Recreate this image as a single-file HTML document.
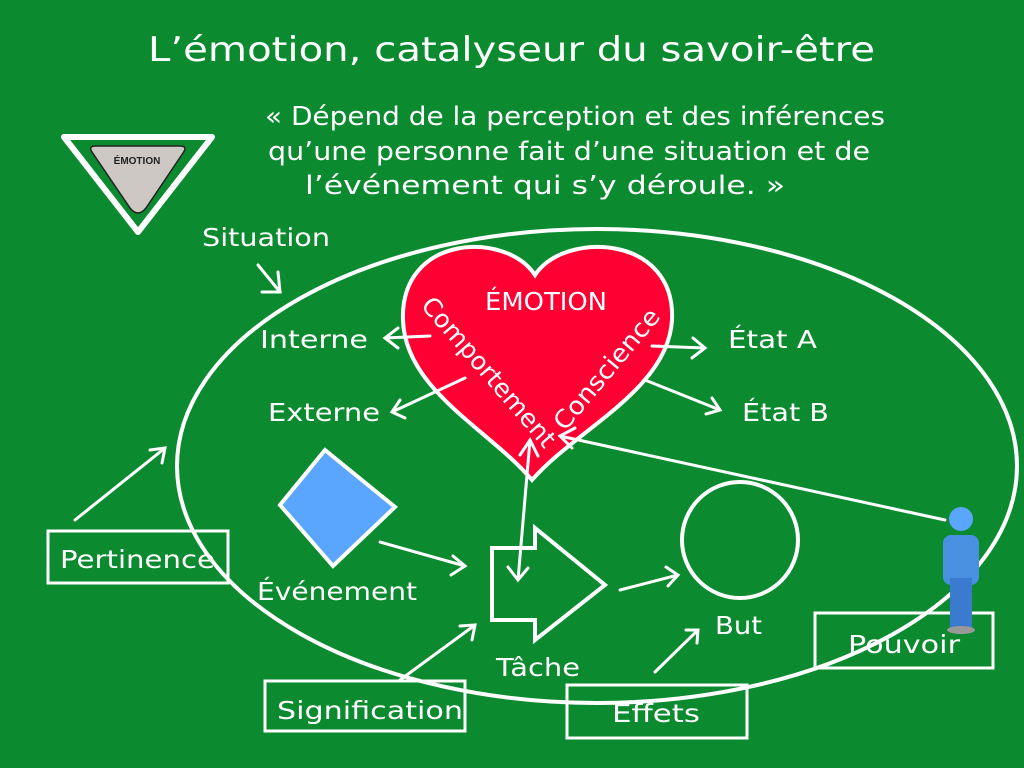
<!DOCTYPE html>
<html><head><meta charset="utf-8"><style>
html,body{margin:0;padding:0;background:#0b8a2f;}
svg{display:block}
text{font-family:"DejaVu Sans","Liberation Sans",sans-serif;fill:#fff;}
</style></head><body>
<svg width="1024" height="768" viewBox="0 0 1024 768" xmlns="http://www.w3.org/2000/svg">
<rect width="1024" height="768" fill="#0b8a2f"/>
<g fill="none" stroke="#fff" stroke-width="4" stroke-linecap="round" stroke-linejoin="round">
<ellipse cx="597" cy="466" rx="420" ry="237"/>
<path d="M64,137 L212,137 L138,232 Z" stroke-width="6"/>
</g>
<path d="M92,152 Q88,146 96,146 L180,146 Q188,146 183,153 L146,208 Q138,218 130,208 Z" fill="#cdc8c4" stroke="#222" stroke-width="1.5"/>
<text x="137" y="164" font-size="10" font-weight="bold" text-anchor="middle" style="fill:#222;font-family:'Liberation Sans',sans-serif">ÉMOTION</text>
<path d="M535,275 C505,230 400,235 403,320 C405,390 490,430 532,480 C575,430 668,390 672,320 C676,235 565,230 535,275 Z" fill="#ff0033" stroke="#fff" stroke-width="4"/>
<polygon points="325,450 395,507 333,566 280,505" fill="#5aa6ff" stroke="#fff" stroke-width="4"/>
<circle cx="740" cy="540" r="58" fill="none" stroke="#fff" stroke-width="4"/>
<path d="M492,548 L535,548 L535,528 L605,585 L535,640 L535,620 L492,620 Z" fill="none" stroke="#fff" stroke-width="4"/>
<g fill="none" stroke="#fff" stroke-width="3" stroke-linecap="round">
<rect x="48" y="531" width="180" height="52"/>
<rect x="265" y="681" width="200" height="50"/>
<rect x="567" y="685" width="180" height="53"/>
<rect x="815" y="613" width="178" height="55"/>
<path d="M258,265 L280,292 M262,292 L280,292 L278,272"/>
<path d="M430,336 L385,338 M398,328 L385,338 L398,348"/>
<path d="M465,378 L392,412 M400,400 L392,412 L405,418"/>
<path d="M652,346 L705,348 M693,338 L705,348 L692,358"/>
<path d="M645,380 L720,410 M712,398 L720,410 L706,414"/>
<path d="M75,520 L165,448 M150,450 L165,448 L162,463"/>
<path d="M380,542 L465,566 M453,556 L465,566 L451,575"/>
<path d="M518,580 L530,440 M520,455 L530,440 L538,456 M508,567 L518,580 L528,568"/>
<path d="M620,590 L678,575 M666,567 L678,575 L668,586"/>
<path d="M400,680 L475,625 M460,626 L475,625 L472,640"/>
<path d="M655,672 L698,630 M686,630 L698,630 L697,643"/>
<path d="M945,520 L560,436 M575,428 L560,436 L572,448"/>
</g>
<g>
<circle cx="961" cy="519" r="12" fill="#5aa6ff"/>
<rect x="943" y="535" width="36" height="50" rx="8" fill="#4a90e0"/>
<rect x="950" y="578" width="22" height="52" fill="#3a7bd0"/>
<ellipse cx="961" cy="630" rx="14" ry="4" fill="#999"/>
</g>
<text x="148" y="61" font-size="34" textLength="727" lengthAdjust="spacingAndGlyphs">L’émotion, catalyseur du savoir-être</text>
<text x="265" y="125" font-size="26" textLength="620" lengthAdjust="spacingAndGlyphs">« Dépend de la perception et des inférences</text>
<text x="268" y="160" font-size="26" textLength="602" lengthAdjust="spacingAndGlyphs">qu’une personne fait d’une situation et de</text>
<text x="305" y="194" font-size="26" textLength="480" lengthAdjust="spacingAndGlyphs">l’événement qui s’y déroule. »</text>
<g font-size="25">
<text x="202" y="246" textLength="128" lengthAdjust="spacingAndGlyphs">Situation</text>
<text x="260" y="348" textLength="108" lengthAdjust="spacingAndGlyphs">Interne</text>
<text x="268" y="421" textLength="112" lengthAdjust="spacingAndGlyphs">Externe</text>
<text x="485" y="310" textLength="122" lengthAdjust="spacingAndGlyphs">ÉMOTION</text>
<text x="728" y="348" textLength="89" lengthAdjust="spacingAndGlyphs">État A</text>
<text x="742" y="421" textLength="87" lengthAdjust="spacingAndGlyphs">État B</text>
<text x="257" y="600" textLength="160" lengthAdjust="spacingAndGlyphs">Événement</text>
<text x="60" y="568" textLength="155" lengthAdjust="spacingAndGlyphs">Pertinence</text>
<text x="277" y="719" textLength="186" lengthAdjust="spacingAndGlyphs">Signification</text>
<text x="496" y="676" textLength="84" lengthAdjust="spacingAndGlyphs">Tâche</text>
<text x="715" y="634" textLength="47" lengthAdjust="spacingAndGlyphs">But</text>
<text x="612" y="722" textLength="88" lengthAdjust="spacingAndGlyphs">Effets</text>
<text x="848" y="653" textLength="112" lengthAdjust="spacingAndGlyphs">Pouvoir</text>
<text x="0" y="0" transform="translate(420,306) rotate(49)" textLength="190" lengthAdjust="spacingAndGlyphs">Comportement</text>
<text x="0" y="0" transform="translate(565,432) rotate(-50)" textLength="150" lengthAdjust="spacingAndGlyphs">Conscience</text>
</g>
</svg>
</body></html>
